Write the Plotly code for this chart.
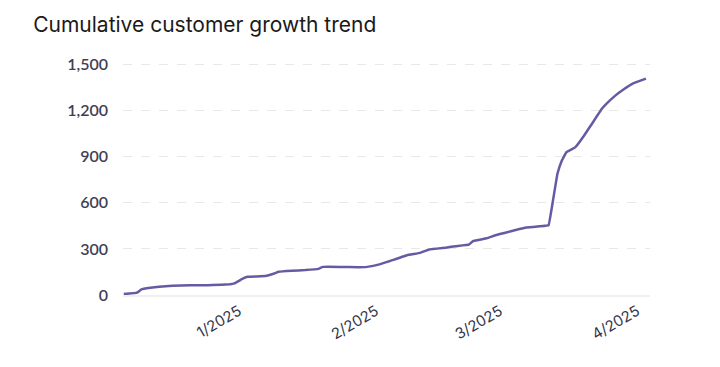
import plotly.graph_objects as go

dates = [
    "2024-12-06", "2024-12-09", "2024-12-10", "2024-12-12", "2024-12-14", "2024-12-17",
    "2024-12-21", "2024-12-24", "2024-12-26", "2024-12-30", "2024-12-31",
    "2025-01-02", "2025-01-03", "2025-01-07", "2025-01-09", "2025-01-10", "2025-01-13",
    "2025-01-16", "2025-01-19", "2025-01-20", "2025-01-24", "2025-01-28", "2025-01-30",
    "2025-02-02", "2025-02-04", "2025-02-08", "2025-02-11", "2025-02-13", "2025-02-17",
    "2025-02-19", "2025-02-22", "2025-02-23", "2025-02-26", "2025-02-28",
    "2025-03-02", "2025-03-05", "2025-03-07", "2025-03-10", "2025-03-12", "2025-03-13",
    "2025-03-14", "2025-03-15", "2025-03-16", "2025-03-18", "2025-03-20", "2025-03-22",
    "2025-03-24", "2025-03-25", "2025-03-27", "2025-03-29", "2025-03-31", "2025-04-03",
]
customers = [
    6, 15, 37, 47, 54, 60,
    63, 63, 65, 70, 76,
    108, 119, 123, 140, 151, 158,
    162, 170, 183, 183, 181, 183,
    201, 220, 259, 274, 296, 309,
    318, 328, 352, 369, 389,
    404, 426, 439, 447, 454, 616,
    789, 875, 929, 961, 1037, 1123,
    1210, 1242, 1296, 1339, 1376, 1408,
]
y_ticks = [0, 300, 600, 900, 1200, 1500]
x_range = ["2024-12-05 20:00", "2025-04-03 22:00"]
title_text = "Cumulative customer growth trend"

fig = go.Figure(
    go.Scatter(
        x=dates,
        y=customers,
        mode="lines",
        line=dict(color="#665ba3", width=2.5, shape="spline", smoothing=0.15),
        hoverinfo="skip",
    )
)

fig.update_layout(
    width=720,
    height=367,
    margin=dict(l=115, r=78, t=55, b=80),
    paper_bgcolor="white",
    plot_bgcolor="white",
    showlegend=False,
    title=dict(
        text=title_text,
        x=0.035,
        xanchor="left",
        y=0.955,
        yanchor="middle",
        font=dict(family="Inter, sans-serif", size=21, color="#1a1a1a"),
    ),
)

fig.update_xaxes(
    type="date",
    range=x_range,
    dtick="M1",
    tick0="2025-01-01",
    tickformat="%-m/%Y",
    tickangle=-30,
    showgrid=False,
    zeroline=False,
    showline=True,
    linecolor="#efefef",
    linewidth=2,
    ticks="",
    tickfont=dict(family="Inter, sans-serif", size=15, color="#34344a"),
)

fig.update_yaxes(
    range=[0, 1510],
    tickvals=y_ticks,
    tickformat=",",
    showgrid=True,
    gridcolor="#e8e8e8",
    griddash="dash",
    gridwidth=1,
    zeroline=False,
    showline=False,
    ticks="",
    ticklabelstandoff=14,
    tickfont=dict(family="Lato, sans-serif", size=16, color="#3f3f56", weight=600),
)

fig.write_html("out.html")
